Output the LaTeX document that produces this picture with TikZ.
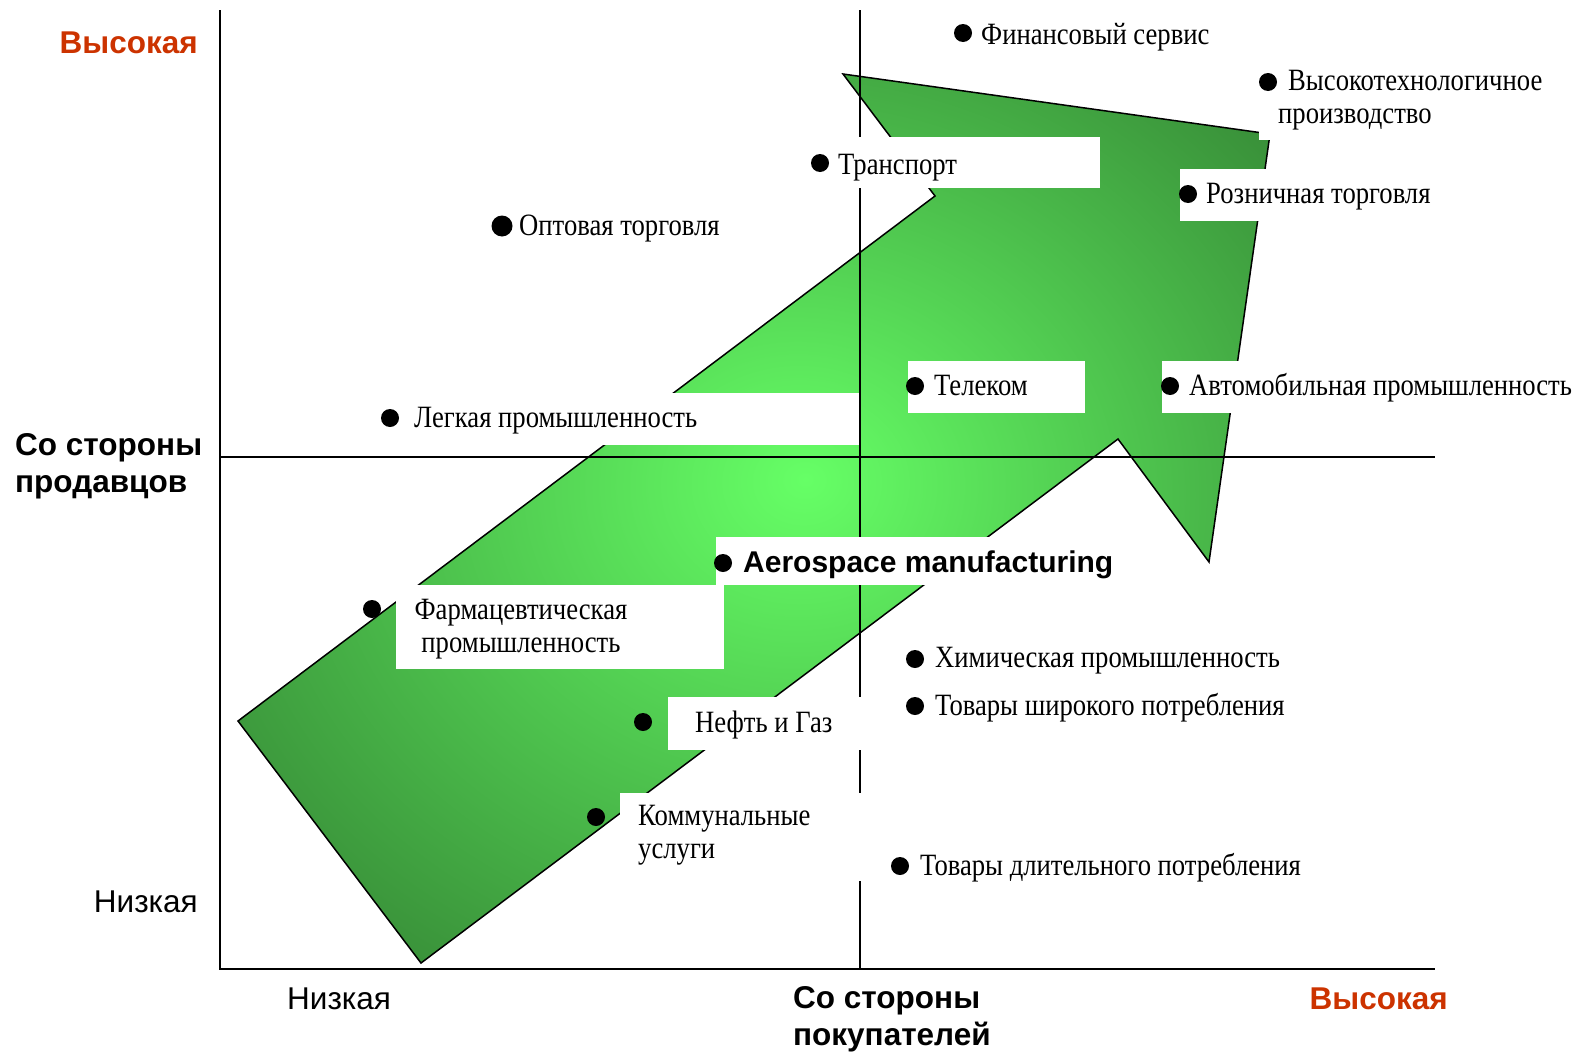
\documentclass[tikz,border=0pt]{standalone}
\usepackage{fontspec}
\newfontfamily\itemfont{Liberation Serif}[FakeStretch=0.86]
\newfontfamily\axisfont{Liberation Sans}
\usepackage{tikz}
\usetikzlibrary{positioning}
\definecolor{arrowlight}{RGB}{102,255,102}
\definecolor{arrowdark}{RGB}{48,122,48}
\definecolor{highred}{RGB}{204,51,0}
\pgfdeclareradialshading{greenarrow}{\pgfpoint{2.5bp}{2.2bp}}{%
	color(0bp)=(arrowlight);
	color(38bp)=(arrowdark);
	color(50bp)=(arrowdark)}
\tikzset{
	item/.style={
		font=\itemfont\fontsize{31}{33}\selectfont,
		inner sep=0pt,
		anchor=base west
	},
	bullet/.style={
		circle,
		fill=black,
		inner sep=0pt,
		minimum size=18pt
	},
	blank/.style={
		fill=white
	},
	axislabel/.style={
		font=\axisfont\fontsize{31.5}{37}\selectfont,
		inner sep=0pt
	},
	axishead/.style={
		axislabel,
		font=\axisfont\bfseries\fontsize{31.5}{37}\selectfont
	},
	axis/.style={
		line width=2.2pt
	},
	midline/.style={
		line width=1.6pt
	}
}

\begin{document}
\begin{tikzpicture}[x=1pt,y=-1pt]
	\useasboundingbox (0,0) rectangle (1579,1052);

	%%% Arrow
	\shade[shading=greenarrow,draw=black,line width=1.5pt]
		(238,721) -- (421,963) -- (1118,439) -- (1209,562)
		-- (1270,134) -- (843,74) -- (935,196) -- cycle;

	%%% Axes
	\coordinate (origin) at (220,969);
	\coordinate (ytop) at (220,10);
	\coordinate (xend) at (1435,969);
	\coordinate (midleft) at (220,457);
	\coordinate (midright) at (1435,457);
	\coordinate (midtop) at (860,10);
	\coordinate (midbottom) at (860,969);
	\draw[axis] (ytop) -- (origin) -- (xend);
	\draw[midline] (midleft) -- (midright);
	\draw[midline] (midtop) -- (midbottom);

	%%% Label backgrounds
	\fill[blank] (812,137) rectangle (1100,188); % transport
	\fill[blank] (1180,169) rectangle (1440,221); % retail
	\fill[blank] (1259,60) rectangle (1545,140); % hightech
	\fill[blank] (908,361) rectangle (1085,413); % telecom
	\fill[blank] (1162,361) rectangle (1579,413); % auto
	\fill[blank] (402,393) rectangle (859,445); % light industry
	\fill[blank] (716,537) rectangle (1125,585); % aerospace
	\fill[blank] (396,585) rectangle (724,669); % pharma
	\fill[blank] (668,697) rectangle (862,750); % oil and gas
	\fill[blank] (620,793) rectangle (862,881); % utilities

	%%% Industries
	%% Upper half
	\node at (963,33) [bullet] (financedot) {};
	\node at (981,44) [item] (finance) {Финансовый сервис};
	\node at (1268,82) [bullet] (hightechdot) {};
	\node at (1278,123) [item,align=left] (hightech) {\hspace*{10pt}Высокотехнологичное\\производство};
	\node at (820,163) [bullet] (transportdot) {};
	\node at (838,174) [item] (transport) {Транспорт};
	\node at (1188,194) [bullet] (retaildot) {};
	\node at (1206,203) [item] (retail) {Розничная торговля};
	\node at (502,226) [bullet,minimum width=21pt] (wholesaledot) {};
	\node at (519,235) [item] (wholesale) {Оптовая торговля};
	\node at (915,386) [bullet] (telecomdot) {};
	\node at (934,395) [item] (telecom) {Телеком};
	\node at (1170,386) [bullet] (autodot) {};
	\node at (1189,395) [item] (auto) {Автомобильная промышленность};
	\node at (390,418) [bullet] (lightdot) {};
	\node at (414,427) [item] (light) {Легкая промышленность};

	%% Lower half
	\node at (723,563) [bullet] (aerospacedot) {};
	\node at (743,572) [item,font=\axisfont\bfseries\fontsize{30}{33}\selectfont] (aerospace) {Aerospace manufacturing};
	\node at (372,609) [bullet] (pharmadot) {};
	\node at (521,652) [item,anchor=base,align=center] (pharma) {Фармацевтическая\\промышленность};
	\node at (643,722) [bullet] (oildot) {};
	\node at (695,732) [item] (oil) {Нефть и Газ};
	\node at (596,817) [bullet] (utilitiesdot) {};
	\node at (638,858) [item,align=left] (utilities) {Коммунальные\\услуги};
	\node at (915,659) [bullet] (chemicaldot) {};
	\node at (935,667) [item] (chemical) {Химическая промышленность};
	\node at (915,706) [bullet] (consumerdot) {};
	\node at (935,715) [item] (consumer) {Товары широкого потребления};
	\node at (900,866) [bullet] (durabledot) {};
	\node at (920,875) [item] (durable) {Товары длительного потребления};

	%%% Axis labels
	\node at (198,53) [axishead,anchor=base east,text=highred] (yhigh) {Высокая};
	\node at (15,492) [axishead,anchor=base west,align=left] (sellers) {Со стороны\\продавцов};
	\node at (198,912) [axislabel,anchor=base east] (ylow) {Низкая};
	\node at (287,1009) [axislabel,anchor=base west] (xlow) {Низкая};
	\node at (793,1045) [axishead,anchor=base west,align=left] (buyers) {Со стороны\\покупателей};
	\node at (1448,1009) [axishead,anchor=base east,text=highred] (xhigh) {Высокая};
\end{tikzpicture}
\end{document}
